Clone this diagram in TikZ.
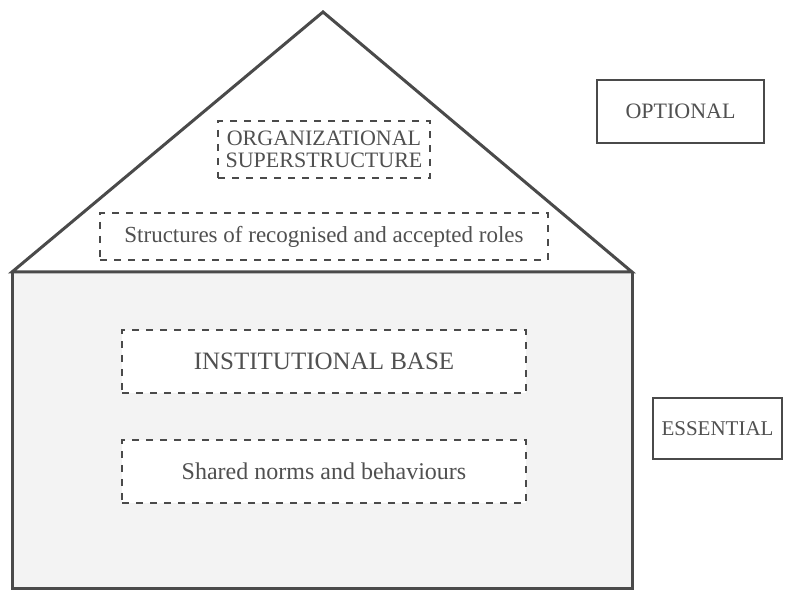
\documentclass[tikz,border=0pt]{standalone}
\usepackage{fontspec}
\setmainfont{Liberation Serif}
\definecolor{ink}{HTML}{4A4A4A}
\definecolor{txt}{HTML}{505050}
\definecolor{basefill}{HTML}{F3F3F3}
\begin{document}
\begin{tikzpicture}[x=1pt,y=1pt,
  dbox/.style={draw=ink, line width=1.8pt, dash pattern=on 7pt off 7pt, fill=white,
    text=txt, align=center, inner sep=0pt},
  sidebox/.style={draw=ink, line width=2pt, fill=white, text=txt, inner sep=0pt},
  wall/.style={draw=ink, line width=3pt}]
\useasboundingbox (0,0) rectangle (787,591);
% base
\coordinate (bl) at (12,2);
\coordinate (tl) at (12,319);
\coordinate (tr) at (632,319);
\coordinate (br) at (632,2);
\coordinate (apex) at (323,579);
\fill[basefill] (bl) rectangle (tr);
\draw[wall] (tl) -- (bl) -- (br) -- (tr);
% roof
\draw[wall, fill=white, line join=miter] (tl) -- (apex) -- (tr) -- cycle;
% dashed boxes
\node[dbox, minimum width=212pt, minimum height=57pt, font=\fontsize{22}{22}\selectfont] (org) at (324,441.5) {ORGANIZATIONAL\\SUPERSTRUCTURE};
\node[dbox, minimum width=448pt, minimum height=47pt, font=\fontsize{23}{25}\selectfont] (roles) at (324,354.5) {Structures of recognised and accepted roles};
\node[dbox, minimum width=404pt, minimum height=63pt, font=\fontsize{25}{27}\selectfont] (inst) at (324,229.5) {INSTITUTIONAL BASE};
\node[dbox, minimum width=404pt, minimum height=63pt, font=\fontsize{24}{26}\selectfont] (shared) at (324,119.5) {Shared norms and behaviours};
% side labels
\node[sidebox, minimum width=167pt, minimum height=63pt, font=\fontsize{22}{24}\selectfont] (opt) at (680.5,479.5) {OPTIONAL};
\node[sidebox, minimum width=129pt, minimum height=61pt, font=\fontsize{21}{23}\selectfont] (ess) at (717.5,162.5) {ESSENTIAL};
\end{tikzpicture}
\end{document}
